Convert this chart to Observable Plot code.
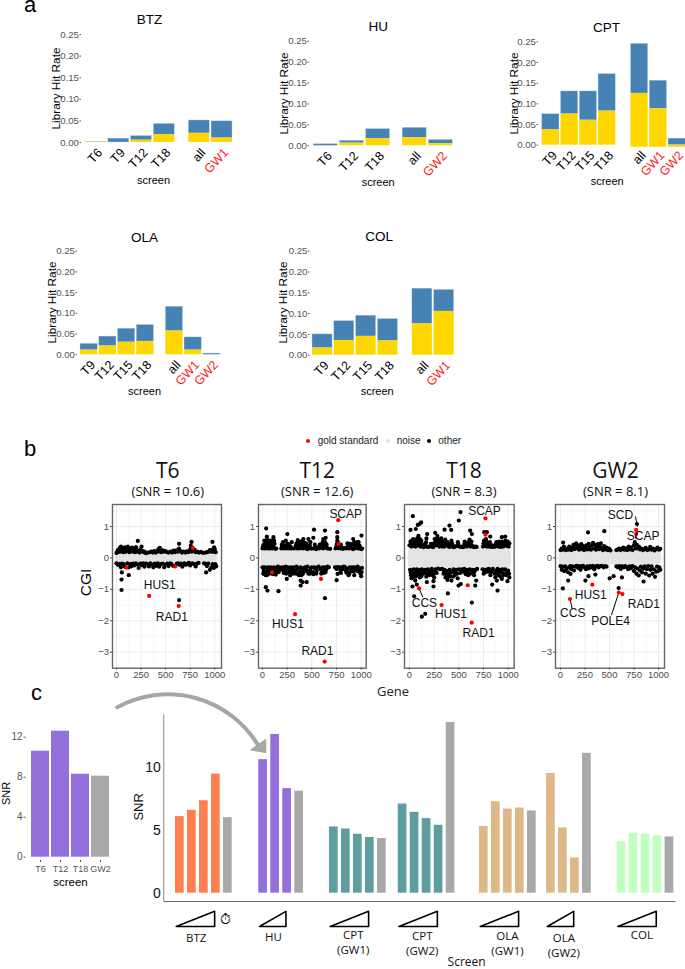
<!DOCTYPE html>
<html><head><meta charset="utf-8">
<script src="https://cdn.jsdelivr.net/npm/d3@7"></script>
<script src="https://cdn.jsdelivr.net/npm/@observablehq/plot@0.6"></script>
<style>
html,body{margin:0;padding:0;background:#fff;overflow:hidden}
#page{position:relative;width:685px;height:969px;overflow:hidden;font-family:"Liberation Sans",sans-serif}
#page svg{position:absolute;background:transparent;max-width:none}
.letter{position:absolute;font-size:22px;line-height:26px;color:#000}
.lg{position:absolute;font-size:10px;line-height:12px;color:#222;white-space:pre}
.ld{position:absolute;width:4px;height:4px;border-radius:50%}
</style></head><body><div id="page"></div>
<script>
// ---------- panel a data: library hit rates ----------
const btzScreens=["T6","T9","T12","T18","all","GW1"];
const btzTotal=[.002,.009,.015,.043,.051,.049];
const btzGold=[.001,0,.005,.018,.021,.010];
const huScreens=["T6","T12","T18","all","GW2"];
const huTotal=[.004,.012,.040,.043,.014];
const huGold=[0,.006,.017,.019,.005];
const cptScreens=["T9","T12","T15","T18","all","GW1","GW2"];
const cptTotal=[.075,.130,.130,.172,.245,.156,.016];
const cptGold=[.037,.075,.060,.082,.125,.088,0];
const olaScreens=["T9","T12","T15","T18","all","GW1","GW2"];
const olaTotal=[.0265,.044,.063,.072,.116,.042,.003];
const olaGold=[.011,.021,.030,.032,.057,.011,0];
const colScreens=["T9","T12","T15","T18","all","GW1"];
const colTotal=[.050,.082,.095,.087,.160,.157];
const colGold=[.017,.035,.045,.034,.075,.105];
const hitTicks=[0,.05,.10,.15,.20,.25];

// ---------- panel b data: CGI scatter (gene, CGI pairs) ----------
const noiseT6=.145, noiseT12=.27, noiseT18=.33, noiseGW2=.235;
const goldT6=[102,-.31,332,-1.21,597,-.27,633,-1.53,777,.32];
const goldT12=[97,-.46,330,-1.79,593,-.67,630,-3.3,770,.44,768,1.2];
const goldT18=[97,-.97,325,-1.5,590,-.87,630,-2.06,770,.74,770,1.26];
const goldGW2=[97,-1.31,325,-.85,595,-1.1,632,-1.15,772,.76,772,.89];
const otherT6=[51,-1.02,51,-.69,54,-.46,125,-.55,637,-1.34,217,.54,197,.34,637,.45,763,.51,976,.51,912,-.46,441,.32,756,.39,993,.34,
0,.16,12,.24,20,.19,30,.31,38,.2,45,.36,52,.22,60,.3,70,.18,78,.27,85,.34,95,.2,105,.29,115,.36,122,.22,132,.18,140,.3,150,.24,158,.33,168,.2,178,.26,190,.18,200,.33,208,.24,222,.2,235,.17,245,.27,255,.36,265,.22,275,.18,285,.2,300,.15,320,.17,340,.18,355,.2,370,.17,385,.22,400,.17,415,.2,425,.27,440,.21,455,.18,470,.24,485,.2,500,.22,515,.18,530,.17,550,.2,565,.17,580,.23,595,.18,610,.24,625,.2,635,.3,650,.22,665,.17,680,.2,700,.17,715,.21,730,.18,745,.24,755,.3,765,.2,780,.22,795,.26,805,.18,820,.2,840,.17,860,.19,880,.16,905,.17,920,.18,935,.2,950,.25,965,.2,975,.26,985,.2,1000,.27,1010,.18,
0,-.17,15,-.22,30,-.2,45,-.3,55,-.18,70,-.2,85,-.28,110,-.17,125,-.3,140,-.2,150,-.27,165,-.18,180,-.24,195,-.17,210,-.21,225,-.32,240,-.18,255,-.23,270,-.17,285,-.28,300,-.18,315,-.2,330,-.27,345,-.17,360,-.21,375,-.3,390,-.18,405,-.25,420,-.17,435,-.28,450,-.2,470,-.18,485,-.3,500,-.22,515,-.18,530,-.26,545,-.17,560,-.2,575,-.25,610,-.19,625,-.17,640,-.22,655,-.18,670,-.28,690,-.17,705,-.22,720,-.19,735,-.16,750,-.24,770,-.17,790,-.2,805,-.27,820,-.18,835,-.16,890,-.17,905,-.19,920,-.26,935,-.18,950,-.38,965,-.3,978,-.2,990,-.32,1005,-.2,1015,-.27];
const otherT12=[37,.94,44,.68,111,.66,84,.55,252,.76,236,.55,296,.5,357,.57,414,.6,465,.6,515,.64,522,.9,633,.87,616,.6,640,.64,758,.82,758,.66,758,.55,919,.6,963,.5,1003,.71,34,-.93,50,-1.04,162,-1.06,387,-.88,387,-.72,407,-.77,448,-.77,633,-1.28,751,-.71,761,-.51,246,-.67,296,-.46,
0,.3,10,.42,18,.55,25,.3,32,.47,40,.35,48,.6,55,.3,62,.5,70,.38,78,.3,85,.48,92,.4,100,.3,108,.55,115,.34,122,.45,130,.29,140,.3,190,.3,200,.37,208,.5,216,.3,225,.32,235,.4,245,.3,255,.45,262,.33,272,.3,285,.36,295,.3,320,.3,335,.35,345,.46,352,.3,362,.4,372,.3,380,.5,390,.34,398,.44,408,.3,418,.38,428,.47,438,.3,448,.36,458,.28,470,.32,480,.4,490,.3,500,.3,520,.3,535,.32,545,.28,560,.34,575,.3,590,.33,605,.4,615,.3,625,.45,635,.5,645,.34,655,.3,665,.3,685,.29,740,.3,750,.36,758,.44,768,.31,778,.36,790,.3,800,.34,815,.29,830,.32,850,.3,865,.38,878,.3,890,.45,900,.33,915,.28,925,.42,935,.3,945,.36,958,.47,968,.3,978,.4,990,.3,1000,.28,1010,.3,
0,-.3,12,-.4,22,-.3,32,-.55,40,-.32,50,-.42,58,-.3,68,-.5,76,-.35,85,-.3,95,-.38,105,-.52,115,-.3,125,-.42,135,-.53,145,-.32,155,-.28,165,-.45,175,-.3,190,-.36,205,-.3,215,-.48,225,-.33,235,-.28,248,-.4,258,-.3,270,-.38,280,-.56,290,-.3,300,-.36,310,-.5,320,-.3,335,-.4,345,-.28,360,-.34,372,-.45,385,-.3,395,-.55,405,-.33,415,-.45,430,-.3,445,-.38,455,-.28,470,-.42,480,-.5,490,-.32,500,-.3,510,-.45,525,-.3,535,-.35,550,-.42,560,-.3,570,-.28,585,-.35,600,-.45,612,-.3,622,-.48,632,-.3,645,-.36,660,-.28,672,-.3,735,-.3,750,-.35,760,-.29,775,-.3,790,-.4,800,-.3,812,-.36,825,-.28,838,-.3,850,-.47,860,-.34,872,-.55,885,-.3,898,-.38,910,-.3,925,-.42,935,-.3,950,-.35,965,-.28,980,-.35,992,-.5,1000,-.58,1008,-.32,
5,.36,28,.4,36,.52,58,.42,74,.44,96,.52,104,.38,118,.55,195,.42,222,.38,250,.38,268,.42,340,.4,358,.5,384,.42,405,.55,424,.42,442,.46,455,.38,485,.5,530,.42,580,.42,610,.5,628,.38,650,.42,752,.42,762,.5,795,.42,860,.46,885,.38,905,.42,930,.5,950,.42,973,.5,985,.38,
8,-.5,28,-.46,45,-.55,72,-.44,90,-.48,110,-.42,130,-.45,150,-.42,170,-.38,210,-.4,240,-.5,265,-.46,285,-.44,305,-.42,340,-.5,368,-.55,390,-.42,410,-.5,438,-.42,465,-.5,485,-.42,515,-.52,545,-.5,595,-.5,618,-.4,640,-.45,795,-.48,845,-.4,865,-.45,880,-.5,905,-.42,930,-.55,960,-.42,985,-.45,1005,-.45];
const otherT18=[34,1.33,10,.89,64,.92,84,1.05,101,1.08,118,1.13,179,.76,260,.8,355,.9,405,1.03,422,.89,500,1.19,517,1.46,615,.87,632,.76,757,.82,784,.82,818,.68,936,.66,970,.68,30,-.91,74,-.85,47,-1.22,125,-1.87,159,-1.78,389,-1.13,632,-1.42,176,-.77,243,-.91,243,-.74,497,-.88,520,-.83,676,-.72,666,-.88,838,-.85,892,-1.04,885,-.72,936,-.67,993,-.74,
0,.4,10,.52,20,.36,30,.46,38,.6,46,.38,55,.48,62,.36,72,.55,82,.4,90,.7,100,.46,110,.36,120,.55,130,.38,142,.34,155,.36,168,.5,178,.36,190,.35,205,.36,218,.45,228,.36,240,.34,255,.6,265,.5,272,.4,282,.7,292,.55,302,.36,312,.45,322,.62,332,.36,342,.52,352,.36,362,.58,372,.4,385,.5,395,.36,410,.35,425,.55,438,.4,448,.34,462,.36,478,.38,490,.5,505,.36,520,.35,535,.36,548,.34,560,.52,570,.38,582,.36,595,.45,608,.58,618,.36,628,.52,640,.38,652,.34,668,.36,680,.35,745,.36,755,.55,765,.38,775,.6,785,.36,795,.45,805,.36,815,.5,828,.35,840,.4,852,.35,868,.36,880,.5,890,.38,902,.36,915,.45,925,.35,938,.52,950,.36,960,.48,972,.55,985,.38,995,.52,1005,.36,1012,.46,
5,-.38,15,-.55,25,-.4,33,-.62,42,-.36,50,-.5,58,-.72,66,-.44,75,-.36,85,-.55,95,-.38,105,-.62,115,-.46,125,-.36,140,-.5,155,-.38,170,-.6,185,-.36,200,-.55,212,-.4,225,-.35,238,-.44,250,-.62,262,-.36,275,-.48,290,-.34,310,-.36,330,-.35,345,-.5,355,-.38,365,-.62,375,-.42,385,-.7,395,-.5,405,-.38,415,-.58,425,-.72,435,-.45,445,-.36,460,-.55,472,-.38,488,-.65,500,-.36,515,-.48,530,-.36,545,-.44,555,-.35,570,-.52,582,-.38,595,-.55,610,-.36,625,-.48,640,-.38,655,-.55,670,-.38,685,-.35,740,-.36,752,-.5,765,-.38,778,-.44,790,-.36,805,-.35,820,-.55,832,-.4,845,-.35,860,-.48,870,-.62,880,-.4,892,-.35,905,-.56,918,-.38,930,-.62,942,-.36,955,-.48,970,-.36,985,-.55,1000,-.4,1012,-.62,
15,.45,25,.55,42,.5,68,.46,78,.62,95,.55,105,.6,125,.44,160,.44,172,.62,248,.46,260,.42,276,.55,286,.62,298,.45,318,.52,328,.44,348,.44,358,.48,380,.42,415,.44,430,.46,495,.44,555,.44,565,.46,602,.5,622,.44,750,.46,770,.46,782,.5,810,.43,875,.42,910,.52,945,.44,966,.42,980,.46,1000,.44,
12,-.46,20,-.65,38,-.52,55,-.58,62,-.6,80,-.46,100,-.5,120,-.58,148,-.45,165,-.46,178,-.5,205,-.46,232,-.55,245,-.5,268,-.45,350,-.44,370,-.5,380,-.55,400,-.6,420,-.46,440,-.6,465,-.46,482,-.5,520,-.44,575,-.44,590,-.46,615,-.5,650,-.46,660,-.42,758,-.44,795,-.44,825,-.46,865,-.5,875,-.5,912,-.46,925,-.46,950,-.55,990,-.46,1008,-.5];
const otherGW2=[780,1.08,281,.81,447,.85,27,.49,24,-.97,78,-.72,254,-.72,285,-.58,102,-.51,593,-.96,847,-.75,502,-.65,542,-.58,627,-.62,356,-.53,
0,.25,12,.3,22,.26,35,.36,45,.27,55,.25,68,.3,78,.26,90,.36,100,.28,110,.25,122,.33,132,.42,140,.28,150,.38,160,.46,170,.3,180,.4,190,.26,200,.35,212,.44,222,.28,232,.38,242,.25,255,.32,265,.4,275,.27,288,.45,298,.33,310,.26,322,.4,332,.48,342,.3,352,.42,362,.26,372,.36,382,.44,392,.28,402,.36,412,.46,422,.3,432,.25,445,.38,458,.27,470,.33,482,.25,495,.3,510,.24,570,.25,585,.27,600,.3,612,.25,625,.28,640,.33,652,.26,665,.3,680,.25,695,.36,705,.27,720,.33,735,.25,748,.4,758,.5,768,.3,778,.42,790,.3,800,.36,812,.27,825,.3,840,.25,855,.28,870,.32,885,.25,900,.27,915,.35,930,.26,945,.3,960,.24,975,.28,990,.33,1005,.26,1018,.29,
0,-.26,12,-.38,24,-.28,38,-.42,50,-.27,62,-.33,75,-.45,88,-.3,100,-.26,112,-.36,125,-.27,138,-.4,150,-.28,165,-.25,180,-.32,192,-.26,205,-.38,218,-.28,230,-.25,245,-.3,260,-.36,272,-.27,288,-.33,300,-.26,315,-.3,330,-.25,345,-.36,360,-.28,375,-.25,390,-.3,405,-.26,420,-.25,440,-.3,455,-.26,470,-.28,570,-.27,585,-.3,600,-.26,615,-.35,630,-.27,645,-.3,660,-.26,675,-.29,690,-.36,705,-.27,720,-.33,735,-.26,750,-.42,762,-.3,775,-.5,785,-.34,798,-.56,810,-.4,820,-.28,832,-.46,845,-.34,858,-.27,870,-.5,882,-.36,895,-.26,905,-.56,918,-.38,930,-.27,940,-.5,952,-.36,965,-.6,975,-.44,985,-.28,995,-.42,1008,-.3,1018,-.38];
const genesT6=[["HUS1",440,-.86],["RAD1",563,-1.87]];
const genesT12=[["SCAP",843,1.4],["HUS1",257,-2.12],["RAD1",556,-2.97]];
const genesT18=[["SCAP",760,1.5],["CCS",151,-1.45],["HUS1",420,-1.8],["RAD1",700,-2.38]];
const genesGW2=[["SCD",612,1.36],["SCAP",844,.68],["HUS1",309,-1.19],["CCS",125,-1.77],["RAD1",850,-1.46],["POLE4",510,-2.0]];
const leadersT18=[[97,-.97,135,-1.25]];
const leadersGW2=[[765,1.32,785,1.0],[772,.76,765,.62],[97,-1.31,118,-1.6],[595,-1.1,520,-1.82]];

// ---------- panel c data: SNR ----------
const snrHU=[10.6,12.6,8.3,8.1];
const snrHUScreens=["T6","T12","T18","GW2"];
const snrGroups=["BTZ","HU","CPT\n(GW1)","CPT\n(GW2)","OLA\n(GW1)","OLA\n(GW2)","COL"];
const snrBTZ=[6.08,6.58,7.34,9.45,6.0];
const snrCPT1=[5.26,5.1,4.68,4.42,4.34];
const snrCPT2=[7.08,6.42,5.92,5.39,13.55];
const snrOLA1=[5.3,7.26,6.68,6.76,6.53];
const snrOLA2=[9.5,5.18,2.8,11.1];
const snrCOL=[4.08,4.76,4.68,4.55,4.47];
const snrSeries=[snrBTZ,snrHU,snrCPT1,snrCPT2,snrOLA1,snrOLA2,snrCOL];
const snrColors=["#ff7f50","#9370db","#5f9ea0","#5f9ea0","#deb887","#deb887","#c1ffc1"];
const GREY="#a9a9a9", BLUE="#4682b4", GOLD="#ffd700";

const page=document.getElementById("page");
function place(svg,left,top){svg.style.left=left+"px";svg.style.top=top+"px";page.appendChild(svg);}
const base={fontFamily:"Liberation Sans",background:"transparent",overflow:"visible"};
function pairs(a){const o=[];for(let i=0;i<a.length;i+=2)o.push({x:a[i],y:a[i+1]});return o;}

// ---------- panel a ----------
function hitPanel(o){
  const rows=o.screens.map((s,i)=>({s,slot:i+(i>=o.first?o.gap:0),gold:o.gold[i],total:o.total[i],low:i>=o.first?(o.drop||0):0}));
  const black=rows.filter(r=>!r.s.startsWith("GW")).map(r=>r.slot), red=rows.filter(r=>r.s.startsWith("GW")).map(r=>r.slot);
  const name=v=>rows.find(r=>r.slot===v).s;
  const hw=.46;
  const L=o.left,T=o.top,ml=o.axisX-L,mt=o.y25-4-T,W=o.w,H=200;
  const txt=(t,px,py,op)=>Plot.text([t],{frameAnchor:"top-left",dx:px-L-ml,dy:py-T-mt,text:d=>d,textAnchor:"middle",lineAnchor:"middle",fill:"#000",...op});
  const tick=(d,fill)=>Plot.axisX(d,{anchor:"bottom",tickSize:0,tickPadding:4,dx:4,tickRotate:-47,tickFormat:name,fontSize:12.5,fill,stroke:null,label:null});
  const p=Plot.plot({width:W,height:H,marginLeft:ml,marginTop:mt,marginRight:0,marginBottom:H-(o.y0+4-T),style:base,
    x:{domain:[-hw,rows[rows.length-1].slot+hw],range:[o.barL-L,o.barR-L],axis:null},
    y:{domain:[0,.25],range:[o.y0-T,o.y25-T],axis:null},
    marks:[
      Plot.rect(rows,{x1:r=>r.slot-hw,x2:r=>r.slot+hw,y1:"gold",y2:"total",fill:BLUE,stroke:"#c3d7e8",strokeWidth:.4}),
      Plot.rect(rows,{x1:r=>r.slot-hw,x2:r=>r.slot+hw,y1:"low",y2:"gold",fill:GOLD}),
      Plot.axisY({ticks:hitTicks,tickFormat:".2f",tickSize:1.5,tickPadding:1,fontSize:9.7,color:"#555",label:null}),
      tick(black,"#000"),tick(red,"#ff1a1a"),
      txt(o.title,o.titleX,o.titleY,{fontSize:13.5}),
      txt("screen",o.titleX2,o.screenY,{fontSize:11}),
      txt("Library Hit Rate",o.labX,o.labY,{fontSize:11.8,rotate:-90})
    ]});
  place(p,L,T);
}
hitPanel({screens:btzScreens,total:btzTotal,gold:btzGold,first:4,gap:.535,left:0,top:0,w:330,axisX:81,barL:85,barR:232,y0:142,y25:34,title:"BTZ",titleX:149,titleY:19,titleX2:153,screenY:180,labX:56,labY:88});
hitPanel({screens:huScreens,total:huTotal,gold:huGold,first:3,gap:.4,left:270,top:0,w:200,axisX:309,barL:313.3,barR:452.3,y0:145.3,y25:40.7,title:"HU",titleX:377.7,titleY:26,titleX2:377.7,screenY:181.7,labX:284,labY:93});
hitPanel({screens:cptScreens,total:cptTotal,gold:cptGold,first:4,gap:.727,drop:-.005,left:490,top:0,w:195,axisX:538,barL:541.7,barR:685.3,y0:144.7,y25:41.3,title:"CPT",titleX:606,titleY:26.7,titleX2:606.7,screenY:181,labX:514,labY:93});
hitPanel({screens:olaScreens,total:olaTotal,gold:olaGold,first:4,gap:.55,left:20,top:210,w:220,axisX:77,barL:80,barR:220,y0:354.3,y25:250.7,title:"OLA",titleX:144,titleY:237,titleX2:144,screenY:390.7,labX:52,labY:302});
hitPanel({screens:colScreens,total:colTotal,gold:colGold,first:4,gap:.58,left:250,top:210,w:220,axisX:309.5,barL:312,barR:453.7,y0:354.7,y25:250.7,title:"COL",titleX:378.7,titleY:236,titleX2:376.7,screenY:391,labX:283,labY:302});

// ---------- panel b ----------
function cgiPanel(o){
  const L=o.fL-30,T=495,fW=o.fR-o.fL,mr=5;
  const W=fW+30+mr,fT=504,fB=667.7,H=200;
  const major=[0,250,500,750,1000],minor=[125,375,625,875];
  const p=Plot.plot({width:W,height:H,marginLeft:30,marginRight:mr,marginTop:fT-T,marginBottom:H-(fB-T),style:base,
    x:{domain:[0,1000],range:[o.x0-L,o.x1-L],axis:null},
    y:{domain:[-3,1],range:[651.7-T,526-T],axis:null},
    marks:[
      Plot.ruleX(minor,{stroke:"#f2f2f2",strokeWidth:.6}),
      Plot.ruleY([-2.5,-1.5,-.5,.5,1.5],{stroke:"#f2f2f2",strokeWidth:.6}),
      Plot.ruleX(major,{stroke:"#ececec",strokeWidth:1}),
      Plot.ruleY([-3,-2,-1,0,1],{stroke:"#ececec",strokeWidth:1}),
      Plot.rect([o.noise],{x1:-12,x2:1032,y1:d=>-d,y2:d=>d,fill:"#e3e3e3",rx:4}),
      Plot.dot(pairs(o.other),{x:"x",y:"y",r:2.1,fill:"#000"}),
      Plot.link(o.leaders||[],{x1:d=>d[0],y1:d=>d[1],x2:d=>d[2],y2:d=>d[3],stroke:"#000",strokeWidth:1}),
      Plot.dot(pairs(o.gold),{x:"x",y:"y",r:2.1,fill:"#ff0000"}),
      Plot.text(o.genes,{x:d=>d[1],y:d=>d[2],text:d=>d[0],fontSize:12,fill:"#111"}),
      Plot.frame({stroke:"#666",strokeWidth:1.4}),
      Plot.axisX({anchor:"bottom",ticks:major,tickFormat:"d",tickSize:2,tickPadding:1.5,fontSize:9.5,color:"#4d4d4d",label:null}),
      Plot.axisY({anchor:"left",ticks:[-3,-2,-1,0,1],tickFormat:"d",tickSize:2,tickPadding:1.5,fontSize:9.5,color:"#4d4d4d",label:null}),
      Plot.text([o.title],{frameAnchor:"top-left",dx:o.cx-o.fL,dy:470.5-fT,text:d=>d,fontSize:21,textAnchor:"middle",lineAnchor:"middle",fontFamily:"Open Sans",fill:"#111"}),
      Plot.text([o.snr],{frameAnchor:"top-left",dx:o.cx-o.fL,dy:491-fT,text:d=>d,fontSize:13,textAnchor:"middle",lineAnchor:"middle",fontFamily:"Open Sans",fill:"#111"})
    ]});
  p.style.overflow="visible";
  place(p,L,T);
}
cgiPanel({title:"T6",snr:"(SNR = 10.6)",cx:167,fL:111.7,fR:220.7,x0:115.7,x1:214,noise:noiseT6,other:otherT6,gold:goldT6,genes:genesT6});
cgiPanel({title:"T12",snr:"(SNR = 12.6)",cx:317,fL:258.3,fR:366,x0:262.3,x1:361,noise:noiseT12,other:otherT12,gold:goldT12,genes:genesT12});
cgiPanel({title:"T18",snr:"(SNR = 8.3)",cx:463.5,fL:404,fR:513.7,x0:409,x1:507.7,noise:noiseT18,other:otherT18,gold:goldT18,genes:genesT18,leaders:leadersT18});
cgiPanel({title:"GW2",snr:"(SNR = 8.1)",cx:615,fL:555,fR:664,x0:560,x1:658,noise:noiseGW2,other:otherGW2,gold:goldGW2,genes:genesGW2,leaders:leadersGW2});

// page-level text of panel b
const bText=Plot.plot({width:685,height:40,margin:0,style:base,x:{domain:[0,685],range:[0,685],axis:null},y:{domain:[0,40],range:[0,40],axis:null},marks:[
  Plot.text(["CGI"],{frameAnchor:"top-left",dx:86,dy:20,text:d=>d,rotate:-90,fontSize:15.5,fill:"#000",textAnchor:"middle",lineAnchor:"middle"})]});
place(bText,0,561.7);
const gene=document.createElement("div");gene.className="lg";gene.style.cssText="left:377px;top:685px;font-size:13px;font-family:'Open Sans'";gene.textContent="Gene";page.appendChild(gene);

// legend
[["gold standard","#ff0000",305.7,317.7],["noise","#e3e3e3",385.7,396.7],["other","#000",427.3,438.3]].forEach(([t,c,dx,tx])=>{
  const d=document.createElement("div");d.className="ld";d.style.cssText=`left:${dx}px;top:439px;background:${c}`;page.appendChild(d);
  const s=document.createElement("div");s.className="lg";s.style.cssText=`left:${tx}px;top:435px`;s.textContent=t;page.appendChild(s);
});
[["a",24,-8],["b",24,436],["c",31,680]].forEach(([t,x,y])=>{const d=document.createElement("div");d.className="letter";d.style.left=x+"px";d.style.top=y+"px";d.textContent=t;page.appendChild(d);});

// ---------- panel c: large chart ----------
const groupStart=[0,6.94,12.83,18.56,25.33,30.92,36.8];
const bars=[],wedges=[];
snrSeries.forEach((vals,g)=>{
  vals.forEach((v,i)=>bars.push({slot:groupStart[g]+i,v,fill:i===vals.length-1?GREY:snrColors[g]}));
  const a=groupStart[g]-.3,b=groupStart[g]+vals.length-2-.1;
  [[a,-2.64],[b,-1.44],[b,-2.64]].forEach(p=>wedges.push({g,x:p[0],y:p[1]}));
});
const labelX=[1.36,7.8,14.45,20.2,27.3,32,38.5], labelY=[-3.65,-3.55,-3.43,-3.5,-3.5,-3.65,-3.45];
const groupLabels=snrGroups.map((t,i)=>({t,x:labelX[i],y:labelY[i]}));
const arrowHead=[{x:5.95,y:11.38},{x:7.14,y:12.17},{x:7.14,y:11.19}];
const big=Plot.plot({width:685,height:289,marginLeft:163.3,marginRight:10,marginTop:33,marginBottom:68,style:base,
  x:{domain:[0,40],range:[179.35,659.35],axis:null},
  y:{domain:[0,14],range:[212.7,36.3],axis:null},
  marks:[
    Plot.rect(bars,{x1:d=>d.slot-.3625,x2:d=>d.slot+.3625,y1:0,y2:"v",fill:"fill"}),
    Plot.link([{}],{x1:-1.35,x2:41.3,y1:-.66,y2:-.66,stroke:"#666",strokeWidth:1}),
    Plot.link([{}],{x1:-1.34,x2:-1.34,y1:-.66,y2:14.2,stroke:"#888",strokeWidth:1}),
    Plot.text([0,5,10],{x:-1.34,y:d=>d,dx:-3,text:d=>String(d),textAnchor:"end",fontSize:14,fill:"#111"}),
    Plot.text(["SNR"],{x:-3.45,y:6.85,text:d=>d,rotate:-90,fontSize:13,fill:"#111"}),
    Plot.line(wedges,{x:"x",y:"y",z:"g",curve:"linear-closed",stroke:"#000",strokeWidth:1.6}),
    Plot.text(["\u23F1"],{x:3.8,y:-2.07,text:d=>d,fontSize:14,fontFamily:"DejaVu Sans",fill:"#000"}),
    Plot.text(groupLabels,{x:"x",y:"y",dy:-8,text:"t",fontSize:11.5,lineHeight:1.3,lineAnchor:"top",fontFamily:"Open Sans",fill:"#111"}),
    Plot.text(["Screen"],{x:23.9,y:-5.5,text:d=>d,fontSize:12,fontFamily:"Open Sans",fill:"#111"}),
    Plot.arrow([{}],{x1:-5.22,y1:14.76,x2:6.55,y2:11.7,bend:44,headLength:0,stroke:"#a6a6a6",strokeWidth:4}),
    Plot.line(arrowHead,{x:"x",y:"y",curve:"linear-closed",fill:"#a6a6a6",stroke:"#a6a6a6"})
  ]});
place(big,0,680);

// ---------- panel c: small inset ----------
const hu=snrHU.map((v,i)=>({s:snrHUScreens[i],v}));
const sT=720;
const small=Plot.plot({width:125,height:175,marginLeft:25.5,marginRight:5,marginTop:5,marginBottom:175-(860-sT),style:base,
  x:{type:"band",domain:snrHUScreens,range:[29.5,111.5],paddingInner:.08,paddingOuter:0,axis:null},
  y:{domain:[0,12],range:[856.7-sT,736.7-sT],axis:null},
  marks:[
    Plot.barY(hu,{x:"s",y:"v",fill:d=>d.s==="GW2"?GREY:"#9370db"}),
    Plot.axisY({ticks:[0,4,8,12],tickFormat:"d",tickSize:2,tickPadding:1.5,fontSize:10,color:"#555",label:null}),
    Plot.axisX({anchor:"bottom",tickSize:2,tickPadding:3,fontSize:9,color:"#555",label:null}),
    Plot.text(["SNR"],{frameAnchor:"top-left",dx:6-25.5,dy:793-sT-5,text:d=>d,rotate:-90,fontSize:11,fill:"#000",textAnchor:"middle",lineAnchor:"middle"}),
    Plot.text(["screen"],{frameAnchor:"top-left",dx:70-25.5,dy:882-sT-5,text:d=>d,textAnchor:"middle",lineAnchor:"middle",fontSize:11.5,fill:"#000"})
  ]});
place(small,0,sT);
</script>
</body></html>
